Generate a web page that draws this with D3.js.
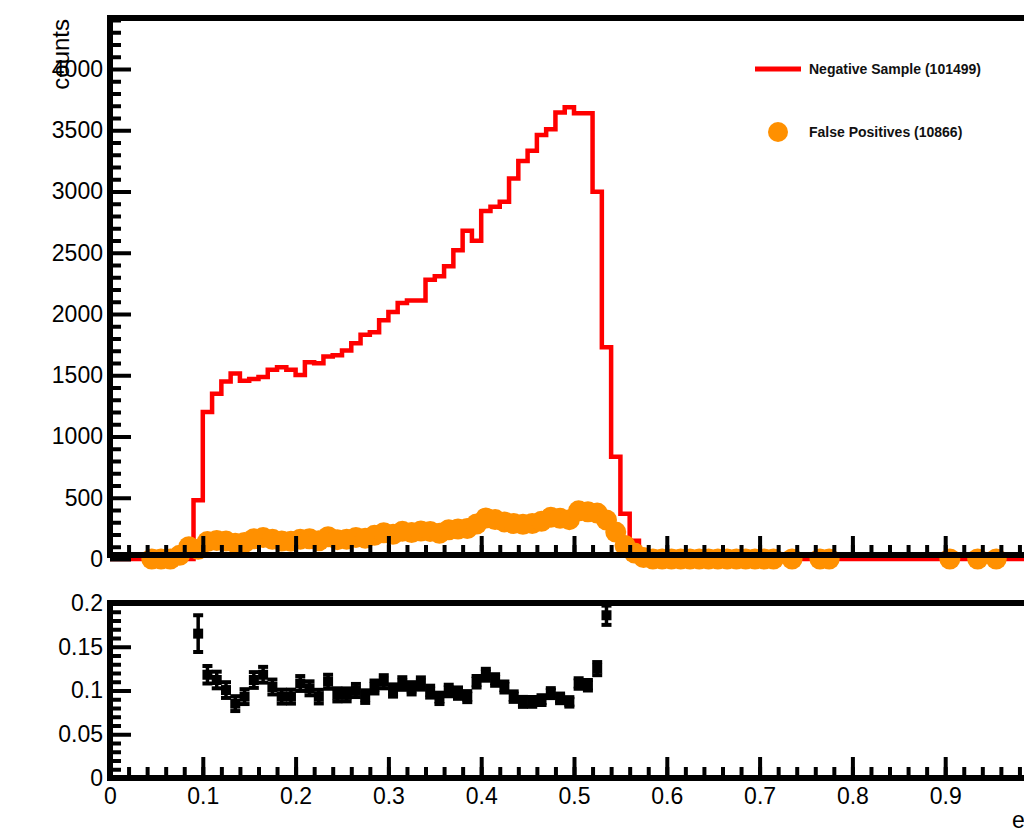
<!DOCTYPE html>
<html>
<head>
<meta charset="utf-8">
<script src="https://cdn.jsdelivr.net/npm/d3@7"></script>
<style>
  html, body { margin: 0; padding: 0; background: #fff; }
  svg { display: block; }
  text { font-family: "Liberation Sans", Arial, Helvetica, sans-serif; }
</style>
</head>
<body>
<script>
// ---- data ---------------------------------------------------------------
// Negative sample: counts per 0.01 bin, bins [0.00,0.01) ... [0.99,1.00)
const negCounts = [
  0, 0, 0, 0, 0, 0, 0, 0, 0, 480,
  1200, 1350, 1450, 1515, 1455, 1470, 1485, 1545, 1565, 1545,
  1503, 1607, 1598, 1653, 1664, 1702, 1762, 1830, 1852, 1948,
  2016, 2089, 2111, 2111, 2280, 2308, 2390, 2520, 2679, 2597,
  2840, 2875, 2916, 3107, 3249, 3333, 3461, 3508, 3644, 3688,
  3639, 3639, 2998, 1729, 835, 370, 150, 30, 0, 0,
  0, 0, 0, 0, 0, 0, 0, 0, 0, 0,
  0, 0, 0, 0, 0, 0, 0, 0, 0, 0,
  0, 0, 0, 0, 0, 0, 0, 0, 0, 0,
  0, 0, 0, 0, 0, 0, 0, 0, 0, 0
];
const binWidth = 0.01;

// False positives: bin centres and counts (points that are drawn)
const fpCenters = [
  0.045, 0.055, 0.065, 0.075, 0.085, 0.095, 0.105, 0.115, 0.125, 0.135,
  0.145, 0.155, 0.165, 0.175, 0.185, 0.195, 0.205, 0.215, 0.225, 0.235,
  0.245, 0.255, 0.265, 0.275, 0.285, 0.295, 0.305, 0.315, 0.325, 0.335,
  0.345, 0.355, 0.365, 0.375, 0.385, 0.395, 0.405, 0.415, 0.425, 0.435,
  0.445, 0.455, 0.465, 0.475, 0.485, 0.495, 0.505, 0.515, 0.525, 0.535,
  0.545, 0.555, 0.565, 0.575, 0.585, 0.595, 0.605, 0.615, 0.625, 0.635,
  0.645, 0.655, 0.665, 0.675, 0.685, 0.695, 0.705, 0.715, 0.735, 0.765,
  0.775, 0.905, 0.935, 0.955
];
const fpCounts = [
  0, 0, 0, 30, 100, 79, 142, 151, 146, 129,
  135, 165, 175, 161, 146, 144, 162, 165, 149, 182,
  158, 162, 176, 170, 193, 214, 202, 226, 216, 228,
  225, 210, 239, 244, 249, 286, 335, 322, 303, 289,
  283, 290, 308, 340, 332, 321, 393, 386, 375, 318,
  220, 110, 50, 12, 0, 0, 0, 0, 0, 0,
  0, 0, 0, 0, 0, 0, 0, 0, 0, 0,
  0, 0, 0, 0
];

// Ratio false positives / negative sample
const ratioCenters = [
  0.095, 0.105, 0.115, 0.125, 0.135, 0.145, 0.155, 0.165, 0.175, 0.185,
  0.195, 0.205, 0.215, 0.225, 0.235, 0.245, 0.255, 0.265, 0.275, 0.285,
  0.295, 0.305, 0.315, 0.325, 0.335, 0.345, 0.355, 0.365, 0.375, 0.385,
  0.395, 0.405, 0.415, 0.425, 0.435, 0.445, 0.455, 0.465, 0.475, 0.485,
  0.495, 0.505, 0.515, 0.525, 0.535
];
const ratioValues = [
  0.165, 0.118, 0.112, 0.1005, 0.085, 0.093, 0.112, 0.118, 0.104, 0.093,
  0.093, 0.108, 0.1025, 0.093, 0.110, 0.095, 0.095, 0.100, 0.093, 0.104,
  0.110, 0.100, 0.108, 0.1025, 0.108, 0.0987, 0.091, 0.100, 0.097, 0.093,
  0.110, 0.118, 0.112, 0.104, 0.093, 0.087, 0.087, 0.089, 0.097, 0.091,
  0.087, 0.108, 0.106, 0.125, 0.186
];
const ratioErrors = [
  0.021, 0.010, 0.0095, 0.009, 0.0085, 0.0085, 0.009, 0.009, 0.0085, 0.008,
  0.008, 0.0085, 0.008, 0.0078, 0.008, 0.0075, 0.0074, 0.0075, 0.0072, 0.0074,
  0.0075, 0.007, 0.0072, 0.007, 0.007, 0.0068, 0.0065, 0.0066, 0.0065, 0.0063,
  0.0066, 0.0068, 0.0066, 0.0063, 0.006, 0.0057, 0.0056, 0.0056, 0.0057, 0.0055,
  0.0054, 0.006, 0.006, 0.0075, 0.011
];

const yTicksTop = [0, 500, 1000, 1500, 2000, 2500, 3000, 3500, 4000];
const yTicksRatio = [0, 0.05, 0.1, 0.15, 0.2];
const xTicks = [0, 0.1, 0.2, 0.3, 0.4, 0.5, 0.6, 0.7, 0.8, 0.9, 1.0];
const xTickLabels = ["0", "0.1", "0.2", "0.3", "0.4", "0.5", "0.6", "0.7", "0.8", "0.9", ""];

const legendItems = ["Negative Sample (101499)", "False Positives (10866)"];
const yTitleTop = "counts";
const xTitle = "efficiency";

// ---- layout -------------------------------------------------------------
const W = 1024, H = 832;
const RED = "#ff0000", ORANGE = "#ff9000", INK = "#000";
const FRAME_W = 6, TICK_W = 4;

const svg = d3.select("body").append("svg")
  .attr("width", W).attr("height", H)
  .attr("viewBox", `0 0 ${W} ${H}`);
svg.append("rect").attr("width", W).attr("height", H).attr("fill", "#fff");

const x = d3.scaleLinear().domain([0, 1]).range([110, 1038]);

// upper pad
const topFrame = { top: 18, bottom: 555, left: 110, right: 1038 };
const yTop = d3.scaleLinear().domain([0, 4000]).range([559, 69]);

// lower pad
const botFrame = { top: 603, bottom: 778, left: 110, right: 1038 };
const yR = d3.scaleLinear().domain([0, 0.2]).range([778, 603]);

const minorX = d3.range(0, 1.0001, 0.02);
const minorTop = d3.range(0, 4401, 100);
const minorR = d3.range(0, 0.2001, 0.01);

function styleAxis(g, fontSize) {
  g.select(".domain").remove();
  g.selectAll(".tick line").attr("stroke", INK).attr("stroke-width", TICK_W);
  g.selectAll(".tick text")
    .attr("fill", INK)
    .style("font-size", fontSize + "px")
    .style("font-family", "'Liberation Sans', Arial, sans-serif");
}

// ---- upper pad: histogram + points --------------------------------------
const stepPts = [];
negCounts.forEach((v, i) => {
  stepPts.push([i * binWidth, v]);
  stepPts.push([(i + 1) * binWidth, v]);
});
const stepLine = d3.line().x(d => x(d[0])).y(d => yTop(d[1]));
svg.append("path")
  .attr("d", stepLine(stepPts))
  .attr("fill", "none")
  .attr("stroke", RED)
  .attr("stroke-width", 4.5)
  .attr("stroke-linejoin", "miter")
  .attr("stroke-linecap", "butt");

svg.append("g").selectAll("circle")
  .data(fpCenters.map((c, i) => [c, fpCounts[i]]))
  .join("circle")
  .attr("cx", d => x(d[0]))
  .attr("cy", d => yTop(d[1]))
  .attr("r", 10.5)
  .attr("fill", ORANGE);

// upper pad axes
const gTopYMinor = svg.append("g").attr("transform", `translate(${topFrame.left},0)`)
  .call(d3.axisLeft(yTop).tickValues(minorTop.filter(v => v % 500 !== 0)).tickSize(-11).tickFormat(""));
styleAxis(gTopYMinor, 23);
const gTopY = svg.append("g").attr("transform", `translate(${topFrame.left},0)`)
  .call(d3.axisLeft(yTop).tickValues(yTicksTop).tickSize(-21).tickPadding(7).tickFormat(d3.format("d")));
styleAxis(gTopY, 23);

const gTopXMinor = svg.append("g").attr("transform", `translate(0,${topFrame.bottom})`)
  .call(d3.axisBottom(x).tickValues(minorX).tickSize(-10).tickFormat(""));
styleAxis(gTopXMinor, 23);
const gTopX = svg.append("g").attr("transform", `translate(0,${topFrame.bottom})`)
  .call(d3.axisBottom(x).tickValues(xTicks).tickSize(-19).tickFormat(""));
styleAxis(gTopX, 23);

// upper frame
const frameTop = svg.append("g").attr("stroke", INK).attr("stroke-width", FRAME_W).attr("stroke-linecap", "square");
frameTop.append("line").attr("x1", topFrame.left).attr("x2", topFrame.right).attr("y1", topFrame.top).attr("y2", topFrame.top);
frameTop.append("line").attr("x1", topFrame.left).attr("x2", topFrame.left).attr("y1", topFrame.top).attr("y2", topFrame.bottom);
frameTop.append("line").attr("x1", topFrame.left).attr("x2", topFrame.right).attr("y1", topFrame.bottom).attr("y2", topFrame.bottom);

// y title
svg.append("text")
  .attr("transform", "translate(69,19) rotate(-90)")
  .attr("text-anchor", "end")
  .style("font-size", "24px")
  .attr("fill", INK)
  .text(yTitleTop);

// legend
const leg = svg.append("g");
leg.append("line").attr("x1", 755).attr("x2", 801).attr("y1", 69).attr("y2", 69)
  .attr("stroke", RED).attr("stroke-width", 5);
leg.append("circle").attr("cx", 778).attr("cy", 132).attr("r", 10).attr("fill", ORANGE);
leg.selectAll("text.lg").data(legendItems).join("text")
  .attr("class", "lg")
  .attr("x", 809)
  .attr("y", (d, i) => i === 0 ? 69 : 132)
  .attr("dy", "0.35em")
  .style("font-size", "14px")
  .style("font-weight", "bold")
  .attr("fill", "#111")
  .text(d => d);

// ---- lower pad: ratio ----------------------------------------------------
svg.append("clipPath").attr("id", "ratioClip")
  .append("rect")
  .attr("x", botFrame.left).attr("y", botFrame.top)
  .attr("width", botFrame.right - botFrame.left).attr("height", botFrame.bottom - botFrame.top);

const ratioData = ratioCenters.map((c, i) => ({ c, v: ratioValues[i], e: ratioErrors[i] }));
const gR = svg.append("g").attr("clip-path", "url(#ratioClip)");
const eb = gR.selectAll("g.eb").data(ratioData).join("g").attr("class", "eb");
eb.append("line")
  .attr("x1", d => x(d.c)).attr("x2", d => x(d.c))
  .attr("y1", d => yR(d.v - d.e)).attr("y2", d => yR(d.v + d.e))
  .attr("stroke", INK).attr("stroke-width", 3.5);
eb.append("line")
  .attr("x1", d => x(d.c) - 5).attr("x2", d => x(d.c) + 5)
  .attr("y1", d => yR(d.v + d.e)).attr("y2", d => yR(d.v + d.e))
  .attr("stroke", INK).attr("stroke-width", 4);
eb.append("line")
  .attr("x1", d => x(d.c) - 5).attr("x2", d => x(d.c) + 5)
  .attr("y1", d => yR(d.v - d.e)).attr("y2", d => yR(d.v - d.e))
  .attr("stroke", INK).attr("stroke-width", 4);
gR.selectAll("rect.m").data(ratioData).join("rect")
  .attr("class", "m")
  .attr("x", d => x(d.c) - 5).attr("y", d => yR(d.v) - 5)
  .attr("width", 10).attr("height", 10)
  .attr("fill", INK);

// lower pad axes
const gRYMinor = svg.append("g").attr("transform", `translate(${botFrame.left},0)`)
  .call(d3.axisLeft(yR).tickValues(minorR.filter((v, i) => i % 5 !== 0)).tickSize(-11).tickFormat(""));
styleAxis(gRYMinor, 23);
const gRY = svg.append("g").attr("transform", `translate(${botFrame.left},0)`)
  .call(d3.axisLeft(yR).tickValues(yTicksRatio).tickSize(-21).tickPadding(7)
    .tickFormat(d => String(+d.toFixed(2))));
styleAxis(gRY, 23);

const gRXMinor = svg.append("g").attr("transform", `translate(0,${botFrame.bottom})`)
  .call(d3.axisBottom(x).tickValues(minorX).tickSize(-11).tickFormat(""));
styleAxis(gRXMinor, 23);
const gRX = svg.append("g").attr("transform", `translate(0,${botFrame.bottom})`)
  .call(d3.axisBottom(x).tickValues(xTicks).tickSize(-21).tickPadding(10)
    .tickFormat((d, i) => xTickLabels[i]));
styleAxis(gRX, 23);
gRX.selectAll(".tick text").attr("y", 10);

const frameBot = svg.append("g").attr("stroke", INK).attr("stroke-width", FRAME_W).attr("stroke-linecap", "square");
frameBot.append("line").attr("x1", botFrame.left).attr("x2", botFrame.right).attr("y1", botFrame.top).attr("y2", botFrame.top);
frameBot.append("line").attr("x1", botFrame.left).attr("x2", botFrame.left).attr("y1", botFrame.top).attr("y2", botFrame.bottom);
frameBot.append("line").attr("x1", botFrame.left).attr("x2", botFrame.right).attr("y1", botFrame.bottom).attr("y2", botFrame.bottom);

// x title, anchored at the far end of the axis
svg.append("text")
  .attr("x", 1012).attr("y", 828)
  .style("font-size", "23px")
  .attr("fill", INK)
  .text(xTitle);
</script>
</body>
</html>
